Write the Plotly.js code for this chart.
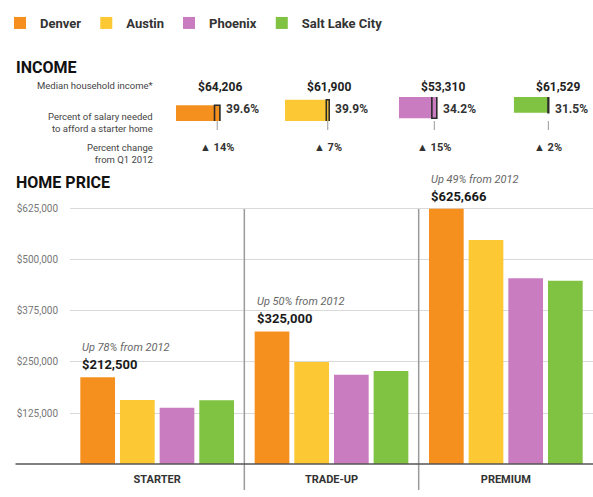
<!DOCTYPE html>
<html>
<head>
<meta charset="utf-8">
<script src="https://cdn.plot.ly/plotly-3.0.1.min.js"></script>
<style>
html,body{margin:0;padding:0;background:#fff;}
#chart{width:593px;height:497px;}
</style>
</head>
<body>
<div id="chart"></div>
<script>
// ---- data ----
const cities = ['Denver', 'Austin', 'Phoenix', 'Salt Lake City'];
const cityColors = ['#F5901E', '#FCC834', '#C97DC0', '#80C242'];
const tiers = ['STARTER', 'TRADE-UP', 'PREMIUM'];
const denverPrice = [212500, 325000, 625666];
const austinPrice = [157000, 250000, 549000];
const phoenixPrice = [138000, 219000, 455000];
const slcPrice = [156000, 228000, 449000];
const upFrom2012 = [78, 50, 49];
const medianIncome = [64206, 61900, 53310, 61529];
const pctSalary = [39.6, 39.9, 34.2, 31.5];
const pctChange = [14, 7, 15, 2];
const yTickVals = [125000, 250000, 375000, 500000, 625000];

// ---- layout helpers ----
const W = 593, H = 497;
const mL = 65, mR = 0, mT = 10, mB = 33;
const pw = W - mL - mR, ph = H - mT - mB;
const px2x = p => (p - mL) / pw;            // pixel x -> paper
const px2y = p => (H - mB - p) / ph;        // pixel y -> paper
const FONT = 'Roboto, "Liberation Sans", sans-serif';
const fmtMoney = v => '$' + Math.round(v).toLocaleString('en-US');

const prices = [denverPrice, austinPrice, phoenixPrice, slcPrice];
const mainTop = px2y(200);
const yMax = 647000;

const traces = [];
prices.forEach((arr, i) => {
  traces.push({
    type: 'bar', name: cities[i], x: tiers, y: arr,
    marker: {color: cityColors[i]}, xaxis: 'x', yaxis: 'y',
    hoverinfo: 'y+name'
  });
});

// income mini bars
const incStart = [172, 282, 397, 513];
const kpx = 1.12;            // px per percent
const incRange = 50;
const layoutAxes = {};
const shapes = [];
const annotations = [];
pctSalary.forEach((p, i) => {
  const ax = 'x' + (i + 2);
  const prior = p / (1 + pctChange[i] / 100);
  traces.push({
    type: 'bar', orientation: 'h', x: [p], y: [0], width: 1,
    xaxis: ax, yaxis: 'y2', offsetgroup: 'inc' + i,
    marker: {color: cityColors[i]}, showlegend: false, hoverinfo: 'x'
  });
  traces.push({
    type: 'bar', orientation: 'h', x: [p - prior], base: [prior], y: [0], width: 1,
    xaxis: ax, yaxis: 'y2', offsetgroup: 'inc' + i,
    marker: {color: cityColors[i], line: {color: '#2b2b2b', width: 1.6}},
    showlegend: false, hoverinfo: 'x'
  });
  const d0 = px2x(incStart[i]);
  layoutAxes['xaxis' + (i + 2)] = {
    domain: [d0, d0 + incRange * kpx / pw], range: [0, incRange],
    visible: false, fixedrange: true, anchor: 'y2'
  };
  const mid = (prior + p) / 2;
  shapes.push({type: 'line', xref: ax, yref: 'paper', x0: mid, x1: mid,
    y0: px2y(121), y1: px2y(130), line: {color: '#999', width: 1}});
  annotations.push({xref: ax, yref: 'y2', x: p, y: 0, xanchor: 'left', xshift: 4,
    text: p.toFixed(1) + '%', showarrow: false,
    font: {family: FONT, size: 12, color: '#333', weight: 'bold'}});
  annotations.push({xref: ax, yref: 'paper', x: mid, y: px2y(139),
    text: '▲ ' + pctChange[i] + '%', showarrow: false,
    font: {family: FONT, size: 11, color: '#333', weight: 'bold'}});
  annotations.push({xref: ax, yref: 'paper', x: 40, y: px2y(78),
    text: fmtMoney(medianIncome[i]), showarrow: false,
    font: {family: FONT, size: 12, color: '#222', weight: 'bold'}});
});

// left-side labels
const labX = px2x(151);
annotations.push({xref: 'paper', yref: 'paper', x: labX, y: px2y(78), xanchor: 'right',
  text: 'Median household income*', showarrow: false,
  font: {family: FONT, size: 9.5, color: '#444'}});
annotations.push({xref: 'paper', yref: 'paper', x: labX, y: px2y(109), xanchor: 'right', align: 'right',
  text: 'Percent of salary needed<br>to afford a starter home', showarrow: false,
  font: {family: FONT, size: 9.5, color: '#444'}});
annotations.push({xref: 'paper', yref: 'paper', x: labX, y: px2y(140), xanchor: 'right', align: 'right',
  text: 'Percent change<br>from Q1 2012', showarrow: false,
  font: {family: FONT, size: 9.5, color: '#444'}});
annotations.push({xref: 'paper', yref: 'paper', x: px2x(8), y: px2y(56), xanchor: 'left',
  text: 'INCOME', showarrow: false,
  font: {family: FONT, size: 16, color: '#111', weight: 'bold'}});
annotations.push({xref: 'paper', yref: 'paper', x: px2x(8), y: px2y(183), xanchor: 'left',
  text: 'HOME PRICE', showarrow: false,
  font: {family: FONT, size: 16, color: '#111', weight: 'bold'}});

// price annotations over Denver bars
tiers.forEach((t, j) => {
  annotations.push({xref: 'x', yref: 'y', x: j - 0.44, y: denverPrice[j], xanchor: 'left', yanchor: 'bottom',
    yshift: 3, text: fmtMoney(denverPrice[j]), showarrow: false,
    font: {family: FONT, size: 13, color: '#1a1a1a', weight: 'bold'}});
  annotations.push({xref: 'x', yref: 'y', x: j - 0.44, y: denverPrice[j], xanchor: 'left', yanchor: 'bottom',
    yshift: 21, text: '<i>Up ' + upFrom2012[j] + '% from 2012</i>', showarrow: false,
    font: {family: FONT, size: 11, color: '#666'}});
});

// dividers and baseline
[0.5, 1.5].forEach(xv => {
  shapes.push({type: 'line', xref: 'x', yref: 'paper', x0: xv, x1: xv,
    y0: -26 / ph, y1: mainTop * 625000 / yMax, line: {color: '#9a9a9a', width: 1.5}});
});
shapes.push({type: 'line', xref: 'paper', yref: 'paper', x0: px2x(10), x1: 1, y0: 0, y1: 0,
  line: {color: '#555', width: 1.6}});

const layout = Object.assign({
  width: W, height: H,
  margin: {l: mL, r: mR, t: mT, b: mB, pad: 0},
  paper_bgcolor: '#fff', plot_bgcolor: '#fff',
  barmode: 'group', bargap: 0.09, bargroupgap: 0.125,
  showlegend: true,
  legend: {orientation: 'h', x: px2x(-6), xanchor: 'left', y: px2y(8), yanchor: 'top',
    font: {family: FONT, size: 13, color: '#333', weight: 'bold'},
    traceorder: 'normal', bgcolor: 'rgba(0,0,0,0)'},
  xaxis: {domain: [0, 1], type: 'category', range: [-0.5, 2.5], showgrid: false, zeroline: false,
    showline: false, ticks: '', ticklabelstandoff: 7, fixedrange: true,
    tickfont: {family: FONT, size: 11, color: '#333', weight: 'bold'}},
  yaxis: {domain: [0, mainTop], range: [0, yMax], tickvals: yTickVals,
    ticktext: yTickVals.map(fmtMoney), showgrid: true, gridcolor: '#d9d9d9', gridwidth: 1,
    zeroline: false, showline: false, ticks: '', ticklabelstandoff: 11, fixedrange: true,
    tickfont: {family: FONT, size: 10, color: '#777'}},
  yaxis2: {domain: [px2y(121), px2y(97)], range: [-0.5, 0.5], visible: false, fixedrange: true, anchor: 'x2'},
  shapes: shapes,
  annotations: annotations
}, layoutAxes);

Plotly.newPlot('chart', traces, layout, {displayModeBar: false, staticPlot: true});
</script>
</body>
</html>
